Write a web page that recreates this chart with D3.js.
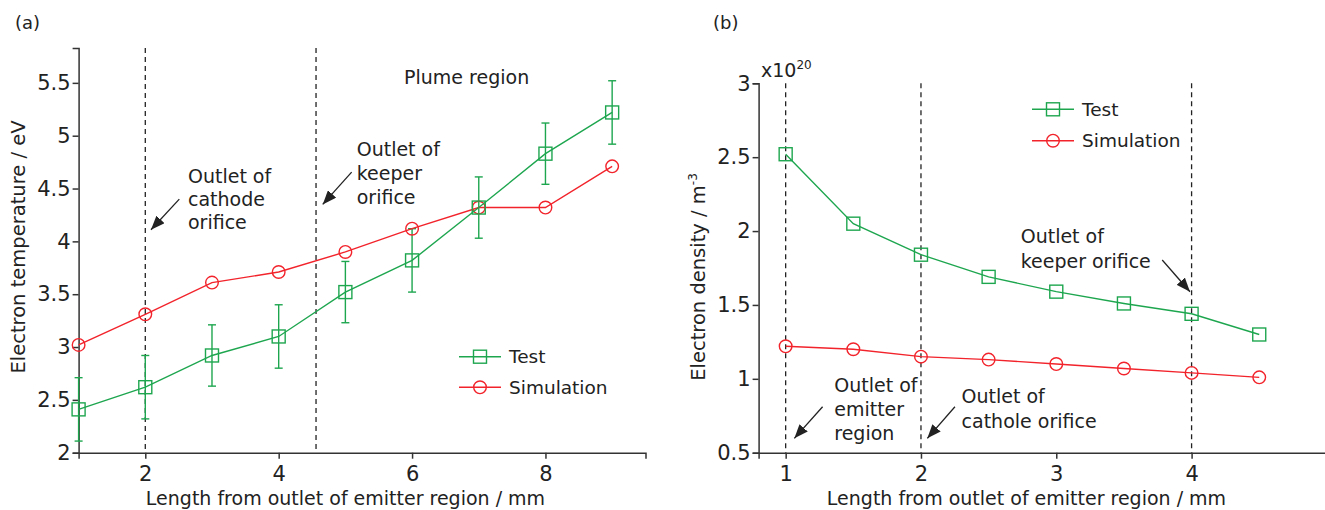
<!DOCTYPE html>
<html>
<head>
<meta charset="utf-8">
<script src="https://cdn.jsdelivr.net/npm/d3@7"></script>
<style>
  body { margin: 0; background: #fff; }
  svg { font-family: "DejaVu Sans", sans-serif; }
  text { fill: #222; }
</style>
</head>
<body>
<div id="chart"></div>
<script>
// panel (a): electron temperature
const lengthA = [1, 2, 3, 4, 5, 6, 7, 8, 9]
const testTemp = [2.41, 2.62, 2.92, 3.10, 3.52, 3.82, 4.32, 4.83, 5.22]
const testTempErr = [0.30, 0.30, 0.29, 0.30, 0.29, 0.30, 0.29, 0.29, 0.30]
const simTemp = [3.02, 3.31, 3.61, 3.71, 3.90, 4.12, 4.32, 4.32, 4.71]
const xTicksA = [2, 4, 6, 8]
const yTicksA = [2, 2.5, 3, 3.5, 4, 4.5, 5, 5.5]
const dashA = [2, 4.56]

// panel (b): electron density (x10^20 m^-3)
const lengthB = [1, 1.5, 2, 2.5, 3, 3.5, 4, 4.5]
const testDens = [2.52, 2.05, 1.84, 1.69, 1.59, 1.51, 1.44, 1.30]
const simDens = [1.22, 1.20, 1.15, 1.13, 1.10, 1.07, 1.04, 1.01]
const xTicksB = [1, 2, 3, 4]
const yTicksB = [0.5, 1, 1.5, 2, 2.5, 3]
const dashB = [1, 2, 4]

const green = "#1ea64f"
const red = "#f2232b"
const ink = "#222"

const width = 1325
const height = 510
const svg = d3.select("#chart").append("svg")
    .attr("width", width)
    .attr("height", height)

// arrow head
svg.append("defs").append("marker")
    .attr("id", "head")
    .attr("viewBox", "0 0 14 11")
    .attr("refX", 14).attr("refY", 5.5)
    .attr("markerWidth", 14).attr("markerHeight", 11)
    .attr("markerUnits", "userSpaceOnUse")
    .attr("orient", "auto")
  .append("path")
    .attr("d", "M0,0 L14,5.5 L0,11 Z")
    .attr("fill", ink)

function drawAxes(x, y, xTicks, yTicks) {
  let g = svg.append("g")
  g.append("g")
    .attr("transform", "translate(0," + y.range()[0] + ")")
    .call(d3.axisBottom(x).tickValues(xTicks).tickSize(6).tickSizeOuter(6).tickPadding(7).tickFormat(d => String(d)))
  g.append("g")
    .attr("transform", "translate(" + x.range()[0] + ",0)")
    .call(d3.axisLeft(y).tickValues(yTicks).tickSize(6).tickSizeOuter(6).tickPadding(2).tickFormat(d => String(d)))
  g.selectAll(".domain, .tick line").attr("stroke", "#333").attr("stroke-width", 1.5)
  g.selectAll(".tick text").attr("font-size", 21).attr("font-family", "DejaVu Sans").attr("fill", ink)
}

function drawDashes(x, y, vals) {
  svg.append("g").selectAll("line")
    .data(vals)
    .enter().append("line")
    .attr("x1", d => x(d)).attr("x2", d => x(d))
    .attr("y1", y.range()[1]).attr("y2", y.range()[0])
    .attr("stroke", ink)
    .attr("stroke-width", 1.3)
    .attr("stroke-dasharray", "5,4")
}

function drawSeries(x, y, xs, ys, colour, shape) {
  let pts = xs.map((v, i) => [v, ys[i]])
  let line = d3.line().x(d => x(d[0])).y(d => y(d[1]))
  let g = svg.append("g")
  g.append("path")
    .attr("d", line(pts))
    .attr("fill", "none")
    .attr("stroke", colour)
    .attr("stroke-width", 1.4)
  drawMarkers(g, pts.map(d => [x(d[0]), y(d[1])]), colour, shape)
}

function drawMarkers(g, pts, colour, shape) {
  if (shape == "square") {
    g.selectAll("rect.m").data(pts).enter().append("rect")
      .attr("x", d => d[0] - 6.5).attr("y", d => d[1] - 6.5)
      .attr("width", 13).attr("height", 13)
      .attr("fill", "none").attr("stroke", colour).attr("stroke-width", 1.4)
  } else {
    g.selectAll("circle.m").data(pts).enter().append("circle")
      .attr("cx", d => d[0]).attr("cy", d => d[1]).attr("r", 6.3)
      .attr("fill", "none").attr("stroke", colour).attr("stroke-width", 1.4)
  }
}

function drawLegend(x0, y0, gap) {
  let items = [["Test", green, "square"], ["Simulation", red, "circle"]]
  items.forEach(function(it, i) {
    let yy = y0 + i * gap
    let g = svg.append("g")
    g.append("line")
      .attr("x1", x0).attr("x2", x0 + 42).attr("y1", yy).attr("y2", yy)
      .attr("stroke", it[1]).attr("stroke-width", 1.4)
    drawMarkers(g, [[x0 + 21, yy]], it[1], it[2])
    g.append("text")
      .attr("x", x0 + 50).attr("y", yy).attr("dy", "0.35em")
      .attr("font-size", 18.5)
      .text(it[0])
  })
}

function drawNote(x, y, note) {
  let t = svg.append("text")
    .attr("font-size", 19)
  note.lines.forEach(function(s, i) {
    t.append("tspan")
      .attr("x", x(note.tx))
      .attr("y", y(note.ty) + i * note.step)
      .attr("dy", "0.35em")
      .text(s)
  })
  if (note.from) {
    svg.append("line")
      .attr("x1", x(note.from[0])).attr("y1", y(note.from[1]))
      .attr("x2", x(note.to[0])).attr("y2", y(note.to[1]))
      .attr("stroke", ink).attr("stroke-width", 1.3)
      .attr("marker-end", "url(#head)")
  }
}

// ---------- panel (a) ----------
const xA = d3.scaleLinear().domain([1, 9.5]).range([78.6, 645.5])
const yA = d3.scaleLinear().domain([2, 5.83]).range([452.7, 48])

drawDashes(xA, yA, dashA)
drawAxes(xA, yA, xTicksA, yTicksA)

// error bars for the test data
let errG = svg.append("g").attr("stroke", green).attr("stroke-width", 1.4)
lengthA.forEach(function(v, i) {
  let cx = xA(v)
  let top = yA(testTemp[i] + testTempErr[i])
  let bot = yA(testTemp[i] - testTempErr[i])
  errG.append("line").attr("x1", cx).attr("x2", cx).attr("y1", top).attr("y2", bot)
  errG.append("line").attr("x1", cx - 4).attr("x2", cx + 4).attr("y1", top).attr("y2", top)
  errG.append("line").attr("x1", cx - 4).attr("x2", cx + 4).attr("y1", bot).attr("y2", bot)
})

drawSeries(xA, yA, lengthA, simTemp, red, "circle")
drawSeries(xA, yA, lengthA, testTemp, green, "square")
drawLegend(459, 356.7, 30.6)

drawNote(xA, yA, {lines: ["Outlet of", "cathode", "orifice"], tx: 2.64, ty: 4.62, step: 23,
                  from: [2.51, 4.40], to: [2.085, 4.11]})
drawNote(xA, yA, {lines: ["Outlet of", "keeper", "orifice"], tx: 5.17, ty: 4.87, step: 24,
                  from: [5.094, 4.655], to: [4.66, 4.35]})
drawNote(xA, yA, {lines: ["Plume region"], tx: 5.88, ty: 5.55, step: 0})

svg.append("text")
    .attr("x", 345.5).attr("y", 498.5).attr("dy", "0.35em")
    .attr("text-anchor", "middle").attr("font-size", 19)
    .text("Length from outlet of emitter region / mm")
svg.append("text")
    .attr("transform", "translate(25,247) rotate(-90)")
    .attr("text-anchor", "middle").attr("font-size", 19.5)
    .text("Electron temperature / eV")
svg.append("text")
    .attr("x", 15).attr("y", 23).attr("dy", "0.35em")
    .attr("font-size", 18)
    .text("(a)")

// ---------- panel (b) ----------
const xB = d3.scaleLinear().domain([0.8, 5]).range([758.6, 1326.9])
const yB = d3.scaleLinear().domain([0.5, 3]).range([452.7, 83.3])

drawDashes(xB, yB, dashB)
drawAxes(xB, yB, xTicksB, yTicksB)
drawSeries(xB, yB, lengthB, simDens, red, "circle")
drawSeries(xB, yB, lengthB, testDens, green, "square")
drawLegend(1032, 109.3, 31.4)

drawNote(xB, yB, {lines: ["Outlet of", "keeper orifice"], tx: 2.737, ty: 1.961, step: 25,
                  from: [3.783, 1.804], to: [3.988, 1.589]})
drawNote(xB, yB, {lines: ["Outlet of", "emitter", "region"], tx: 1.359, ty: 0.958, step: 24,
                  from: [1.273, 0.811], to: [1.064, 0.597]})
drawNote(xB, yB, {lines: ["Outlet of", "cathole orifice"], tx: 2.30, ty: 0.879, step: 25,
                  from: [2.251, 0.811], to: [2.047, 0.597]})

let expo = svg.append("text")
    .attr("x", 761).attr("y", 77)
    .attr("font-size", 19)
expo.append("tspan").text("x10")
expo.append("tspan").attr("font-size", 12).attr("dy", -8).text("20")

svg.append("text")
    .attr("x", 1026.5).attr("y", 498.5).attr("dy", "0.35em")
    .attr("text-anchor", "middle").attr("font-size", 19)
    .text("Length from outlet of emitter region / mm")
let yt = svg.append("text")
    .attr("transform", "translate(705,277) rotate(-90)")
    .attr("text-anchor", "middle").attr("font-size", 19.5)
yt.append("tspan").text("Electron density / m")
yt.append("tspan").attr("font-size", 12).attr("dy", -8).text("-3")
svg.append("text")
    .attr("x", 713).attr("y", 23).attr("dy", "0.35em")
    .attr("font-size", 18)
    .text("(b)")
</script>
</body>
</html>
